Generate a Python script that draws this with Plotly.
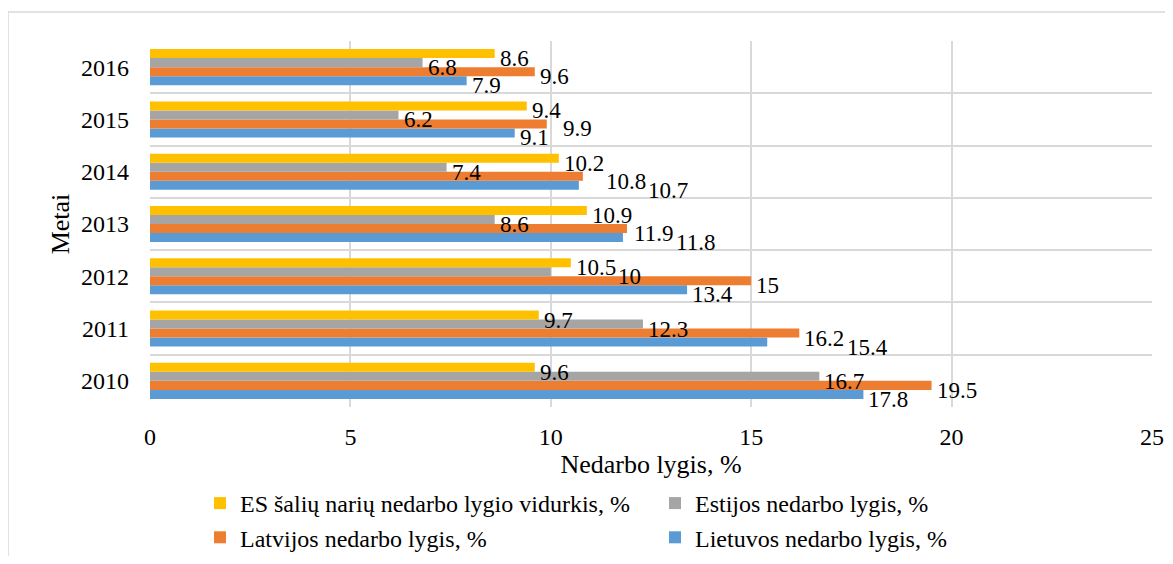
import plotly.graph_objects as go

years = ["2010", "2011", "2012", "2013", "2014", "2015", "2016"]
es_avg = [9.6, 9.7, 10.5, 10.9, 10.2, 9.4, 8.6]
estonia = [16.7, 12.3, 10, 8.6, 7.4, 6.2, 6.8]
latvia = [19.5, 16.2, 15, 11.9, 10.8, 9.9, 9.6]
lithuania = [17.8, 15.4, 13.4, 11.8, 10.7, 9.1, 7.9]

names = [
    "Lietuvos nedarbo lygis, %",
    "Latvijos nedarbo lygis, %",
    "Estijos nedarbo lygis, %",
    "ES šalių narių nedarbo lygio vidurkis, %",
]
series = [lithuania, latvia, estonia, es_avg]
colors = ["#5B9BD5", "#ED7D31", "#A5A5A5", "#FFC000"]

FONT = "Liberation Serif"
LBL = 23

# page body has an 8px margin: figure occupies screen x 8..1173, y 8..556
OFF = 8
W, H = 1173 - OFF, 564 - 2 * OFF
PL, PR, PT, PB = 150, 1152, 41, 407  # plot area in screen pixels
XMAX = 25
pw, ph = PR - PL, PB - PT

fig = go.Figure()
for name, vals, col in zip(names, series, colors):
    fig.add_trace(go.Bar(
        y=years, x=vals, name=name, orientation="h",
        marker=dict(color=col, line=dict(width=0)),
    ))


def text_w(s):
    return sum(0.25 * LBL if c == "." else 0.5 * LBL for c in s)


# data labels, with a simple collision step that nudges a label right
band = ph / 7
bar_h = band * (1 - 0.31) / 4
annotations = []
for k in range(len(years)):
    placed = []  # (x0, x1, ycenter) in pixels, y up
    for i in reversed(range(len(series))):  # top bar first
        v = series[i][k]
        txt = f"{v:g}"
        offset = (i - 1.5) * bar_h - 5
        x0 = v / XMAX * pw + 3
        w = text_w(txt)
        for (a0, a1, yc) in placed:
            if abs(yc - offset) < 0.82 * LBL and x0 < a1 and x0 + w > a0:
                x0 = a1 + 2
        placed.append((x0, x0 + w, offset))
        annotations.append(dict(
            x=v, y=k, xref="x", yref="y", text=txt,
            showarrow=False, xanchor="left", yanchor="middle",
            xshift=x0 - v / XMAX * pw, yshift=offset,
            font=dict(family=FONT, size=LBL, color="#000000"),
        ))

fig.update_layout(
    width=W, height=H,
    margin=dict(l=PL - OFF, r=1173 - PR, t=PT - OFF, b=(OFF + H) - PB, autoexpand=False),
    paper_bgcolor="white", plot_bgcolor="white",
    barmode="group", bargap=0.31, bargroupgap=0,
    font=dict(family=FONT, size=24, color="#000000"),
    annotations=annotations,
    xaxis=dict(
        range=[0, XMAX], dtick=5, tick0=0,
        showgrid=True, gridcolor="#D9D9D9", gridwidth=1.5,
        zeroline=False, showline=False,
        ticks="", tickfont=dict(family=FONT, size=24), ticklabelstandoff=13,
        title=dict(text="Nedarbo lygis, %", font=dict(family=FONT, size=26), standoff=0),
    ),
    yaxis=dict(
        type="category", tickson="boundaries", range=[-0.5, 6.5],
        showgrid=True, gridcolor="#D9D9D9", gridwidth=1.5,
        showline=False, zeroline=False, ticks="",
        tickfont=dict(family=FONT, size=24), ticklabelstandoff=20,
        title=dict(text="Metai", font=dict(family=FONT, size=26), standoff=3),
    ),
    legend=dict(
        orientation="h", traceorder="reversed",
        x=(200 - PL) / pw, xanchor="left", y=(PB - 481) / ph, yanchor="top",
        entrywidth=410, entrywidthmode="pixels",
        itemwidth=30,
        font=dict(family=FONT, size=24),
        bgcolor="rgba(0,0,0,0)",
    ),
    shapes=[dict(
        type="rect", xref="paper", yref="paper",
        x0=(8 - PL) / pw, x1=(1171 - PL) / pw,
        y0=(PB - 600) / ph, y1=(PB - 12) / ph,
        line=dict(color="#D9D9D9", width=1.5), fillcolor="rgba(0,0,0,0)",
        layer="below",
    )],
)

fig.write_html("out.html")
